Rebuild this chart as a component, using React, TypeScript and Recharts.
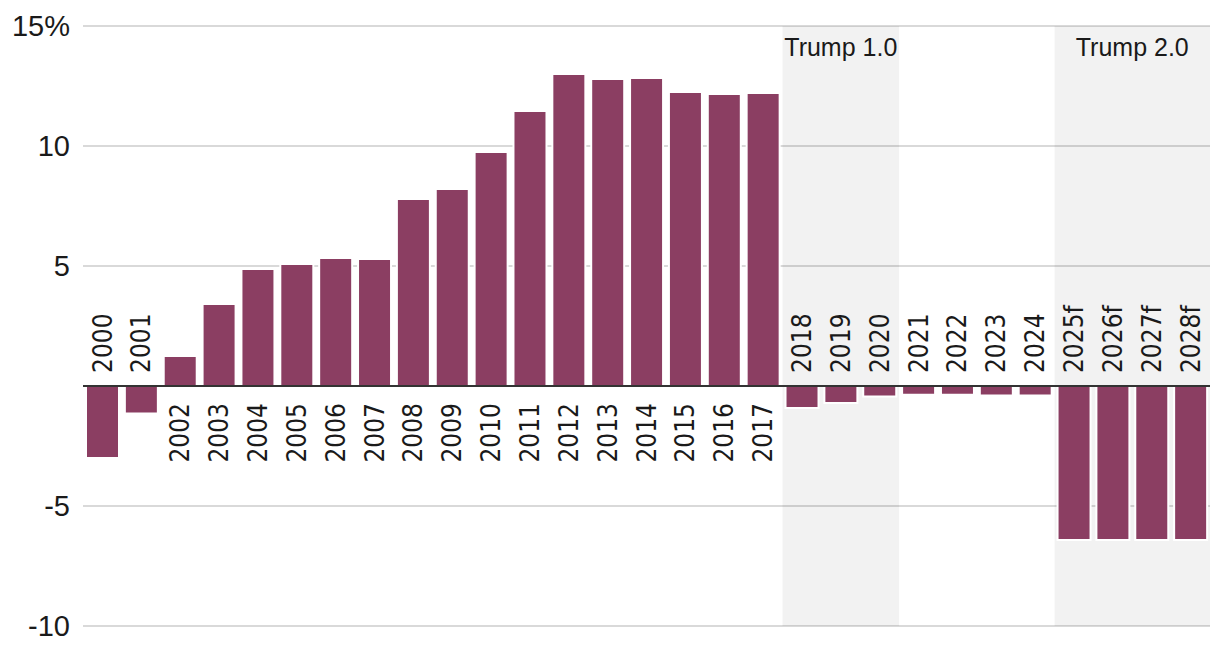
import { BarChart, Bar, XAxis, YAxis, CartesianGrid, ReferenceArea, ReferenceLine, LabelList } from 'recharts';

const years = [
  '2000', '2001', '2002', '2003', '2004', '2005', '2006', '2007', '2008', '2009',
  '2010', '2011', '2012', '2013', '2014', '2015', '2016', '2017', '2018', '2019',
  '2020', '2021', '2022', '2023', '2024', '2025f', '2026f', '2027f', '2028f',
];

const values = [
  -3.0, -1.15, 1.25, 3.42, 4.88, 5.08, 5.33, 5.29, 7.79, 8.21,
  9.75, 11.46, 13.0, 12.79, 12.83, 12.25, 12.17, 12.21, -0.92, -0.71,
  -0.44, -0.36, -0.36, -0.4, -0.4, -6.42, -6.42, -6.42, -6.42,
];

const yTicks = [-10, -5, 0, 5, 10, 15];

const terms = [
  { label: 'Trump 1.0', from: '2018', to: '2020' },
  { label: 'Trump 2.0', from: '2025f', to: '2028f' },
];

const data = years.map((year, i) => ({ year, value: values[i] }));

const FONT = "'Liberation Sans', Arial, sans-serif";
const NARROW = "'Liberation Sans Narrow', 'DejaVu Sans Condensed', 'Liberation Sans', sans-serif";
const BAR_COLOR = '#8b3e62';

const YearLabel = (props: any) => {
  const { x, y, width, height, value } = props;
  const v = values[years.indexOf(value)];
  const top = Math.min(y, y + height);
  const bottom = Math.max(y, y + height);
  const cx = x + width / 2;
  const positive = v >= 0;
  const ly = positive ? bottom + 17 : top - 13;
  return (
    <text
      x={cx}
      y={ly}
      transform={`rotate(-90 ${cx} ${ly})`}
      textAnchor={positive ? 'end' : 'start'}
      dominantBaseline="central"
      fontSize={26}
      fontFamily={NARROW}
      fill="#1a1a1a"
    >
      {value}
    </text>
  );
};

const formatTick = (v: number) => (v === 15 ? '15%' : v === 0 ? '' : String(v));

export default function App() {
  return (
    <div style={{ position: 'absolute', left: 0, top: 0, background: '#fff' }}>
      <BarChart
        width={1220}
        height={660}
        data={data}
        margin={{ top: 26, right: 10, bottom: 34, left: 0 }}
        barSize={33}
      >
        <CartesianGrid vertical={false} stroke="#cccccc" strokeWidth={1.5} />
        <XAxis dataKey="year" hide />
        <YAxis
          domain={[-10, 15]}
          ticks={yTicks}
          tickFormatter={formatTick}
          axisLine={false}
          tickLine={false}
          tickSize={0}
          tickMargin={13}
          width={83}
          tick={{ fontSize: 29, fill: '#1a1a1a', fontFamily: FONT }}
          allowDataOverflow
        />
        {terms.map((t) => (
          <ReferenceArea
            key={t.label}
            x1={t.from}
            x2={t.to}
            fill="#000"
            fillOpacity={0.05}
            stroke="none"
            label={{
              value: t.label,
              position: 'insideTop',
              offset: 12,
              fontSize: 25,
              fill: '#1a1a1a',
              fontFamily: FONT,
            }}
          />
        ))}
        <Bar dataKey="value" fill={BAR_COLOR} stroke="#fff" strokeWidth={2} isAnimationActive={false}>
          <LabelList dataKey="year" content={YearLabel} />
        </Bar>
        <ReferenceLine y={0} stroke="#333" strokeWidth={2} />
      </BarChart>
    </div>
  );
}
